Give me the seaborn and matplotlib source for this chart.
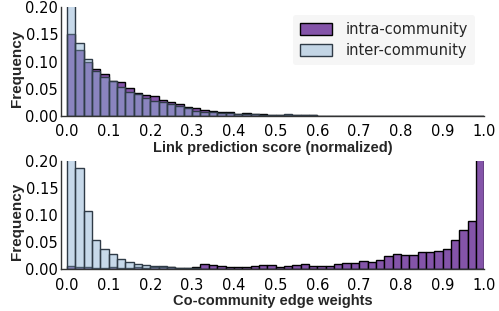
import numpy as np
import pandas as pd
import matplotlib
matplotlib.use('Agg')
import matplotlib.pyplot as plt
import seaborn as sns

# bin width 0.02, 50 bins on [0, 1]; values are the bar heights (frequency)
intra_link = [0.150, 0.121, 0.099, 0.0865, 0.077, 0.064, 0.062, 0.051, 0.042, 0.0387,
              0.036, 0.029, 0.025, 0.0216, 0.017, 0.015, 0.0105, 0.0086, 0.0068, 0.0068,
              0.0037, 0.0055, 0.0037, 0.003, 0.002, 0.002, 0.0015, 0.001, 0.001, 0.001,
              0.0008, 0.0005, 0.0004, 0.0003, 0.0002, 0.0002, 0.0001, 0.0001, 0, 0,
              0, 0, 0, 0, 0, 0, 0, 0, 0, 0]
inter_link = [0.26, 0.135, 0.104, 0.083, 0.071, 0.064, 0.053, 0.045, 0.041, 0.034,
              0.0276, 0.0265, 0.0216, 0.019, 0.014, 0.010, 0.008, 0.0068, 0.0055, 0.005,
              0.004, 0.004, 0.003, 0.0025, 0.002, 0.0015, 0.003, 0.001, 0.001, 0.001,
              0.0005, 0.0004, 0.0003, 0.0002, 0.0002, 0.0001, 0.0001, 0, 0, 0,
              0, 0, 0, 0, 0, 0, 0, 0, 0, 0]
intra_weight = [0.006, 0.004, 0.004, 0.003, 0.003, 0.004, 0.003, 0.003, 0.004, 0.003,
                0.004, 0.005, 0.005, 0.003, 0.003, 0.004, 0.009, 0.008, 0.007, 0.004,
                0.004, 0.004, 0.007, 0.0073, 0.0086, 0.004, 0.007, 0.0086, 0.010, 0.0055,
                0.0067, 0.0067, 0.009, 0.012, 0.012, 0.016, 0.014, 0.0165, 0.024, 0.029,
                0.026, 0.027, 0.032, 0.032, 0.034, 0.037, 0.054, 0.072, 0.090, 0.45]
inter_weight = [0.35, 0.188, 0.108, 0.055, 0.037, 0.029, 0.020, 0.0135, 0.010, 0.008,
                0.006, 0.006, 0.004, 0.003, 0.003, 0.002, 0.0015, 0.001, 0.001, 0.001,
                0.001, 0.001, 0.0008, 0.0005, 0.0004, 0, 0, 0, 0, 0,
                0, 0, 0, 0, 0, 0, 0, 0, 0, 0,
                0, 0, 0, 0, 0, 0, 0, 0, 0, 0]

xlabels = ['Link prediction score (normalized)', 'Co-community edge weights']

centers = np.arange(50) * 0.02 + 0.01

intra_color = '#8454a9'
inter_color = (0.57, 0.71, 0.84, 0.5)

sns.set_style('white')
plt.rcParams['font.family'] = ['DejaVu Sans']

fig = plt.figure(figsize=(4.99, 3.11), dpi=100)
ax1 = fig.add_axes([0.1222, 0.627, 0.8487, 0.3495])
ax2 = fig.add_axes([0.1222, 0.134, 0.8487, 0.348])

panels = [(ax1, intra_link, inter_link), (ax2, intra_weight, inter_weight)]
for i, (ax, intra, inter) in enumerate(panels):
    df = pd.DataFrame({'x': centers, 'intra': intra, 'inter': inter})
    sns.histplot(data=df, x='x', weights='intra', binwidth=0.02, binrange=(0, 1), ax=ax,
                 color=intra_color, alpha=1, edgecolor='black', linewidth=1,
                 label='intra-community')
    sns.histplot(data=df, x='x', weights='inter', binwidth=0.02, binrange=(0, 1), ax=ax,
                 facecolor=inter_color, edgecolor='#2f3b47', linewidth=1,
                 label='inter-community')
    ax.set_xlim(-0.014, 1.0)
    ax.set_ylim(0, 0.2)
    ax.set_xticks(np.arange(0, 1.01, 0.1))
    ax.set_yticks([0, 0.05, 0.10, 0.15, 0.20])
    ax.set_yticklabels(['0.00', '0.05', '0.10', '0.15', '0.20'])
    ax.tick_params(direction='in', length=3, width=0.8, labelsize=10.5,
                   colors='0.2', labelcolor='black')
    ax.tick_params(axis='x', pad=6)
    ax.tick_params(axis='y', pad=2)
    ax.set_xlabel(xlabels[i], family='Liberation Sans', fontweight='bold', fontsize=10.5, labelpad=1)
    ax.set_ylabel('Frequency', family='Liberation Sans', fontweight='bold', fontsize=11)
    ax.yaxis.set_label_coords(-0.087, 0.44)
    sns.despine(ax=ax)
    for s in ['left', 'bottom']:
        ax.spines[s].set_color('0.2')
        ax.spines[s].set_linewidth(1)

leg = ax1.legend(loc='upper right', bbox_to_anchor=(0.978, 0.93), borderaxespad=0,
                 frameon=True, fontsize=10.5, handlelength=2.2, handleheight=0.85,
                 borderpad=0.5, labelspacing=0.4, handletextpad=0.9)
leg.get_frame().set_facecolor('#f4f4f4')
leg.get_frame().set_edgecolor('none')

fig.savefig('out.png', dpi=100)
